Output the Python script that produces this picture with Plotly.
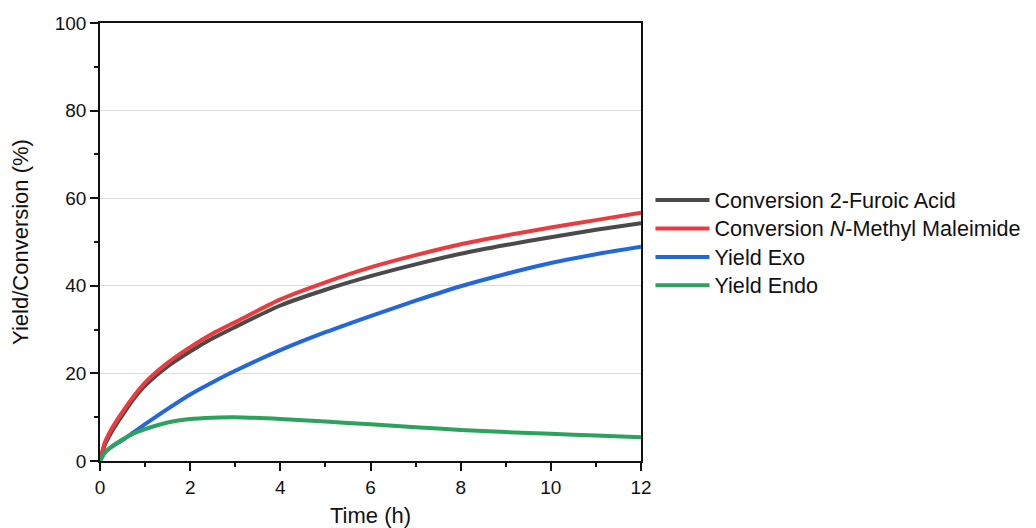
import plotly.graph_objects as go

time_h = [0, 0.1, 0.25, 0.5, 0.75, 1, 1.5, 2, 2.5, 3, 4, 5, 6, 7, 8, 9, 10, 11, 12]
conv_furoic = [0, 3.5, 6.5, 10.5, 14.2, 17.2, 21.6, 25.0, 28.0, 30.6, 35.5, 39.1, 42.2, 44.9, 47.3, 49.3, 51.1, 52.8, 54.3]
conv_nmm = [0, 4.0, 7.2, 11.2, 14.8, 17.9, 22.4, 26.0, 29.1, 31.7, 36.9, 40.8, 44.2, 47.0, 49.5, 51.5, 53.3, 55.0, 56.7]
yield_exo = [0, 1.8, 3.2, 4.8, 6.6, 8.4, 11.9, 15.2, 18.0, 20.6, 25.3, 29.4, 33.1, 36.6, 39.9, 42.7, 45.2, 47.2, 48.9]
yield_endo = [0, 1.8, 3.2, 4.9, 6.3, 7.3, 8.8, 9.6, 9.9, 10.0, 9.6, 9.0, 8.4, 7.7, 7.1, 6.6, 6.2, 5.8, 5.4]

names = ["Conversion 2-Furoic Acid", "Conversion <i>N</i>-Methyl Maleimide", "Yield Exo", "Yield Endo"]
series = [conv_furoic, conv_nmm, yield_exo, yield_endo]
colors = ["#4a4a4a", "#ea3b3e", "#2268d8", "#2ca25c"]

fig = go.Figure()
for nm, ys, c in zip(names, series, colors):
    fig.add_trace(go.Scatter(x=time_h, y=ys, name='<span style="font-size:21.6px">' + nm + '</span>',
                             mode="lines",
                             line=dict(color=c, width=4, shape="spline", smoothing=0.6)))

font_family = "Arial, Liberation Sans, sans-serif"
fig.update_layout(
    width=1028, height=520,
    margin=dict(l=92, r=395, t=15, b=67, autoexpand=False),
    paper_bgcolor="white", plot_bgcolor="white",
    font=dict(family=font_family, color="#111111"),
    showlegend=True,
    legend=dict(x=1.0175, y=0.64, xanchor="left", yanchor="top",
                font=dict(size=19.6, family=font_family, color="#111111"),
                itemwidth=54, tracegroupgap=0, bgcolor="rgba(0,0,0,0)"),
)
fig.update_xaxes(range=[0, 12], tickvals=[0, 2, 4, 6, 8, 10, 12], automargin=False,
                 showline=True, linecolor="#111111", linewidth=1.5, mirror=True,
                 ticks="outside", ticklen=8, tickwidth=1.5, tickcolor="#111111",
                 minor=dict(dtick=1, ticks="outside", ticklen=4, tickwidth=1.5, tickcolor="#111111", showgrid=False),
                 showgrid=False, zeroline=False,
                 tickfont=dict(size=19),
                 title=dict(text="Time (h)", font=dict(size=22), standoff=14))
fig.update_yaxes(range=[0, 100], tickvals=[0, 20, 40, 60, 80, 100], automargin=False,
                 showline=True, linecolor="#111111", linewidth=1.5, mirror=True,
                 ticks="outside", ticklen=8, tickwidth=1.5, tickcolor="#111111",
                 minor=dict(dtick=10, ticks="outside", ticklen=4, tickwidth=1.5, tickcolor="#111111", showgrid=False),
                 showgrid=True, gridcolor="#dcdcdc", gridwidth=1, zeroline=False,
                 tickfont=dict(size=19),
                 title=dict(text="Yield/Conversion (%)", font=dict(size=22), standoff=22))

fig.write_html("out.html")
